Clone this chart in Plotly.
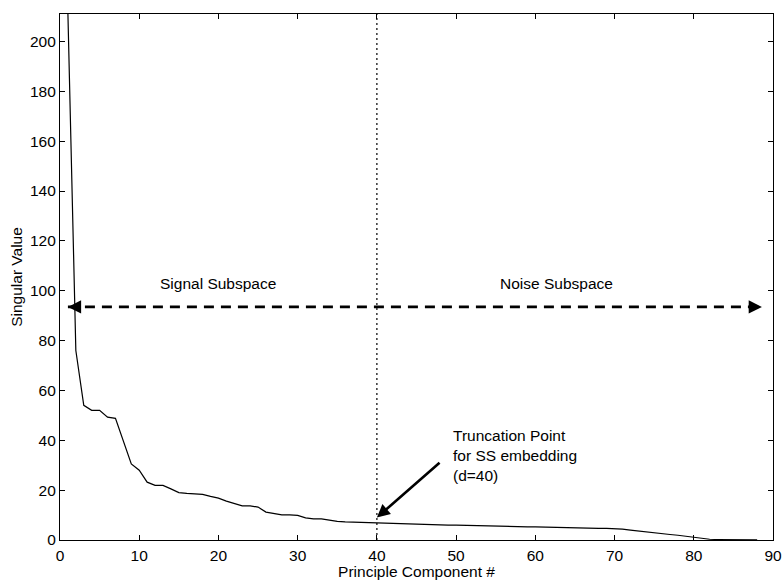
import plotly.graph_objects as go

# Data
singular_values = [211, 76, 54, 52, 52, 49.3, 48.8, 40, 30.5, 28,
                   23.2, 21.9, 21.9, 20.5, 19, 18.7, 18.5, 18.3, 17.5, 16.8,
                   15.6, 14.5, 13.7, 13.7, 13.2, 11.2, 10.5, 10.1, 10.1, 9.9,
                   8.9, 8.5, 8.5, 7.9, 7.5, 7.3, 7.2, 7.1, 6.9, 6.7,
                   6.6, 6.5, 6.5, 6.4, 6.3, 6.3, 6.2, 6.1, 6.0, 6.0,
                   5.9, 5.8, 5.8, 5.7, 5.6, 5.5, 5.5, 5.4, 5.3, 5.3,
                   5.2, 5.1, 5.1, 5.0, 4.9, 4.9, 4.8, 4.7, 4.7, 4.6,
                   4.4, 4.0, 3.6, 3.3, 2.9, 2.6, 2.2, 1.9, 1.5, 1.1,
                   0.6, 0.3, 0.2, 0.2, 0.15, 0.1, 0.1, 0.05]
components = list(range(1, len(singular_values) + 1))

x_ticks = [0, 10, 20, 30, 40, 50, 60, 70, 80, 90]
y_ticks = [0, 20, 40, 60, 80, 100, 120, 140, 160, 180, 200]

truncation_d = 40
subspace_arrow_y = 93.5
subspace_arrow_x = [1.0, 88.6]
labels = ["Signal Subspace", "Noise Subspace"]
label_x = [20, 62.7]
label_y = 103
trunc_text = "Truncation Point<br>for SS embedding<br>(d=40)"

FONT = "Liberation Sans, Arial, Helvetica, sans-serif"
FS = 15.5

fig = go.Figure()

fig.add_trace(go.Scatter(
    x=components, y=singular_values, mode="lines",
    line=dict(color="black", width=1.2), showlegend=False, hoverinfo="skip",
))

# dashed double arrow line
fig.add_trace(go.Scatter(
    x=subspace_arrow_x, y=[subspace_arrow_y, subspace_arrow_y], mode="lines",
    line=dict(color="black", width=2.6, dash="10px,7px"),
    showlegend=False, hoverinfo="skip",
))

# dotted vertical truncation line
fig.add_shape(type="line", x0=truncation_d, x1=truncation_d, y0=0, y1=211,
              xref="x", yref="y", line=dict(color="black", width=1.2, dash="2px,3px"))

# arrowheads on the dashed line
fig.add_annotation(x=subspace_arrow_x[0], y=subspace_arrow_y, ax=14, ay=0,
                   xref="x", yref="y", text="", showarrow=True,
                   arrowhead=2, arrowsize=1.2, arrowwidth=2.2, arrowcolor="black")
fig.add_annotation(x=subspace_arrow_x[1], y=subspace_arrow_y, ax=-14, ay=0,
                   xref="x", yref="y", text="", showarrow=True,
                   arrowhead=2, arrowsize=1.2, arrowwidth=2.2, arrowcolor="black")

for t, lx in zip(labels, label_x):
    fig.add_annotation(x=lx, y=label_y, text=t, showarrow=False,
                       xref="x", yref="y", font=dict(family=FONT, size=FS, color="black"))

# truncation arrow
fig.add_annotation(x=40, y=9, ax=48.1, ay=31.5, axref="x", ayref="y",
                   xref="x", yref="y", text="", showarrow=True,
                   arrowhead=2, arrowsize=1.0, arrowwidth=2.6, arrowcolor="black")
fig.add_annotation(x=49.3, y=34, text=trunc_text, showarrow=False,
                   xref="x", yref="y", xanchor="left", yanchor="middle", align="left",
                   font=dict(family=FONT, size=FS, color="black"))

axis_common = dict(
    showgrid=False, zeroline=False, showline=True, linecolor="black", linewidth=1.2,
    mirror="allticks", ticks="inside", ticklen=5, tickwidth=1, tickcolor="black",
    tickfont=dict(family=FONT, size=FS, color="black"), automargin=False,
)

fig.update_xaxes(range=[0, 90], tickvals=x_ticks, ticktext=[str(v) for v in x_ticks],
                 ticklabelstandoff=1,
                 title=dict(text="Principle Component #", font=dict(family=FONT, size=FS, color="black"),
                            standoff=3),
                 **axis_common)
fig.update_yaxes(range=[0, 211], tickvals=y_ticks, ticktext=[str(v) for v in y_ticks],
                 title=dict(text="Singular Value", font=dict(family=FONT, size=FS, color="black"),
                            standoff=3),
                 **axis_common)

fig.update_layout(
    width=782, height=580,
    margin=dict(l=60, r=9, t=14, b=40),
    paper_bgcolor="white", plot_bgcolor="white",
    font=dict(family=FONT, size=FS, color="black"),
)

fig.write_html("out.html")
